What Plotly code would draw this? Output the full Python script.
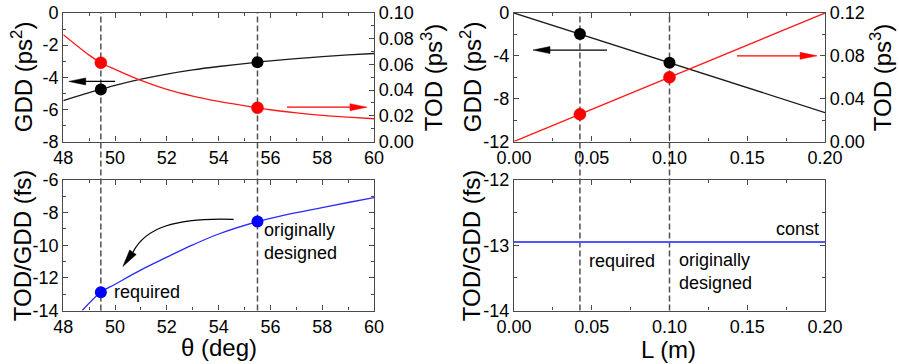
import math
import plotly.graph_objects as go

# ---------------- data ----------------
theta = [48.0, 49.0, 49.45, 50.0, 51.0, 52.0, 53.0, 54.0, 55.5, 56.0, 57.0, 58.0, 59.0, 60.0]
gdd_theta = [-5.45, -4.96, -4.76, -4.51, -4.12, -3.80, -3.54, -3.33, -3.06, -2.98, -2.84, -2.72, -2.61, -2.52]
tod_theta = [0.0831, 0.0672, 0.0613, 0.0561, 0.0475, 0.0405, 0.0353, 0.0312, 0.0262, 0.0247, 0.0223, 0.0203, 0.0189, 0.0177]
theta_ratio = [48.73, 49.45, 50.0, 51.0, 52.0, 53.0, 54.0, 55.5, 56.0, 57.0, 58.0, 59.0, 60.0]
ratio_theta = [-14.0, -12.88, -12.39, -11.51, -10.73, -9.98, -9.31, -8.55, -8.35, -8.0, -7.69, -7.38, -7.08]

theta_pts = [49.45, 55.5]
gdd_theta_pts = [-4.76, -3.06]
tod_theta_pts = [0.0613, 0.0262]
ratio_theta_pts = [-12.88, -8.55]

L = [0.0, 0.2]
gdd_L = [0.0, -9.3]
tod_L = [0.0, 0.12]
ratio_L = [-12.95, -12.95]
L_pts = [0.0424, 0.10]
gdd_L_pts = [-1.97, -4.65]
tod_L_pts = [0.0254, 0.060]

theta_ticks = [48, 50, 52, 54, 56, 58, 60]
theta_ticktext = ["48", "50", "52", "54", "56", "58", "60"]
gdd_theta_ticks = [-8, -6, -4, -2, 0]
gdd_theta_ticktext = ["-8", "-6", "-4", "-2", "0"]
tod_theta_ticks = [0.0, 0.02, 0.04, 0.06, 0.08, 0.10]
tod_theta_ticktext = ["0.00", "0.02", "0.04", "0.06", "0.08", "0.10"]
ratio_theta_ticks = [-14, -12, -10, -8, -6]
ratio_theta_ticktext = ["-14", "-12", "-10", "-8", "-6"]
L_ticks = [0.0, 0.05, 0.10, 0.15, 0.20]
L_ticktext = ["0.00", "0.05", "0.10", "0.15", "0.20"]
gdd_L_ticks = [-12, -8, -4, 0]
gdd_L_ticktext = ["-12", "-8", "-4", "0"]
tod_L_ticks = [0.0, 0.04, 0.08, 0.12]
tod_L_ticktext = ["0.00", "0.04", "0.08", "0.12"]
ratio_L_ticks = [-14, -13, -12]
ratio_L_ticktext = ["-14", "-13", "-12"]

# ---------------- layout geometry ----------------
W, H = 899, 364
LEFT_PX = (63.3, 374.0)
RIGHT_PX = (514.0, 825.0)
TOP_PX = (13.0, 141.5)
BOT_PX = (180.0, 310.5)

R_THETA = [48, 60]
R_GDD_T = [-8, 0]
R_TOD_T = [0, 0.1]
R_RAT_T = [-14, -6]
R_L = [0, 0.2]
R_GDD_L = [-12, 0]
R_TOD_L = [0, 0.12]
R_RAT_L = [-14, -12]


def dom_x(px):
    return [px[0] / W, px[1] / W]


def dom_y(py):
    return [1 - py[1] / H, 1 - py[0] / H]


def d2p(x, y, xr, xpx, yr, ypx):
    px = xpx[0] + (x - xr[0]) / (xr[1] - xr[0]) * (xpx[1] - xpx[0])
    py = ypx[1] - (y - yr[0]) / (yr[1] - yr[0]) * (ypx[1] - ypx[0])
    return px, py


def pp(px, py):
    return px / W, 1 - py / H


FONT = "Arial, Liberation Sans, sans-serif"
FRAME = "#4a4a4a"
BLACK = "#1a1a1a"
RED = "#ff1a1a"
BLUE = "#2a2aff"

fig = go.Figure()

# ---- top-left ----
fig.add_trace(go.Scatter(x=theta, y=gdd_theta, mode="lines", line=dict(color=BLACK, width=1.3, shape="spline"),
                         xaxis="x", yaxis="y", showlegend=False))
fig.add_trace(go.Scatter(x=theta, y=tod_theta, mode="lines", line=dict(color=RED, width=1.3, shape="spline"),
                         xaxis="x", yaxis="y2", showlegend=False))
fig.add_trace(go.Scatter(x=theta_pts, y=gdd_theta_pts, mode="markers", marker=dict(color="black", size=12),
                         xaxis="x", yaxis="y", showlegend=False))
fig.add_trace(go.Scatter(x=theta_pts, y=tod_theta_pts, mode="markers",
                         marker=dict(color="#ff0000", size=12, line=dict(color="#e00000", width=0.5)),
                         xaxis="x", yaxis="y2", showlegend=False))
# ---- bottom-left ----
fig.add_trace(go.Scatter(x=theta_ratio, y=ratio_theta, mode="lines", line=dict(color=BLUE, width=1.3, shape="spline"),
                         xaxis="x2", yaxis="y3", showlegend=False))
fig.add_trace(go.Scatter(x=theta_pts, y=ratio_theta_pts, mode="markers", marker=dict(color="#0000ff", size=12),
                         xaxis="x2", yaxis="y3", showlegend=False))
# ---- top-right ----
fig.add_trace(go.Scatter(x=L, y=gdd_L, mode="lines", line=dict(color=BLACK, width=1.3),
                         xaxis="x3", yaxis="y4", showlegend=False))
fig.add_trace(go.Scatter(x=L, y=tod_L, mode="lines", line=dict(color=RED, width=1.3),
                         xaxis="x3", yaxis="y5", showlegend=False))
fig.add_trace(go.Scatter(x=L_pts, y=gdd_L_pts, mode="markers", marker=dict(color="black", size=12),
                         xaxis="x3", yaxis="y4", showlegend=False))
fig.add_trace(go.Scatter(x=L_pts, y=tod_L_pts, mode="markers",
                         marker=dict(color="#ff0000", size=12, line=dict(color="#e00000", width=0.5)),
                         xaxis="x3", yaxis="y5", showlegend=False))
# ---- bottom-right ----
fig.add_trace(go.Scatter(x=L, y=ratio_L, mode="lines", line=dict(color="#5555ff", width=2.2),
                         xaxis="x4", yaxis="y6", showlegend=False))

tickfont = dict(family=FONT, size=18, color="black")


def axis(rng, domain, ticks, ticktext, minor_dtick, anchor, side=None, mirror="ticks", overlaying=None, tick0=None):
    d = dict(range=rng, domain=domain, tickmode="array", tickvals=ticks, ticktext=ticktext,
             ticks="inside", ticklen=5, tickwidth=1.1, tickcolor=FRAME, automargin=False,
             showline=True, linecolor=FRAME, linewidth=1.3, mirror=mirror,
             showgrid=False, zeroline=False, tickfont=tickfont, anchor=anchor, fixedrange=True,
             minor=dict(tickmode="linear", tick0=rng[0] if tick0 is None else tick0, dtick=minor_dtick,
                        ticks="inside", ticklen=3, tickcolor=FRAME, showgrid=False))
    if side:
        d["side"] = side
    if overlaying:
        d["overlaying"] = overlaying
        d.pop("domain")
    return d


fig.update_layout(
    template="none",
    width=W, height=H, autosize=False, margin=dict(l=0, r=0, t=0, b=0, pad=0, autoexpand=False),
    paper_bgcolor="white", plot_bgcolor="white", showlegend=False,
    font=dict(family=FONT, size=18, color="black"),
    xaxis=axis(R_THETA, dom_x(LEFT_PX), theta_ticks, theta_ticktext, 1, "y"),
    yaxis=axis(R_GDD_T, dom_y(TOP_PX), gdd_theta_ticks, gdd_theta_ticktext, 1, "x", mirror=False),
    yaxis2=axis(R_TOD_T, None, tod_theta_ticks, tod_theta_ticktext, 0.01, "x", side="right", mirror=False,
                overlaying="y"),
    xaxis2=axis(R_THETA, dom_x(LEFT_PX), theta_ticks, theta_ticktext, 1, "y3"),
    yaxis3=axis(R_RAT_T, dom_y(BOT_PX), ratio_theta_ticks, ratio_theta_ticktext, 1, "x2"),
    xaxis3=axis(R_L, dom_x(RIGHT_PX), L_ticks, L_ticktext, 0.025, "y4"),
    yaxis4=axis(R_GDD_L, dom_y(TOP_PX), gdd_L_ticks, gdd_L_ticktext, 2, "x3", mirror=False),
    yaxis5=axis(R_TOD_L, None, tod_L_ticks, tod_L_ticktext, 0.02, "x3", side="right", mirror=False,
                overlaying="y4"),
    xaxis4=axis(R_L, dom_x(RIGHT_PX), L_ticks, L_ticktext, 0.025, "y6"),
    yaxis6=axis(R_RAT_L, dom_y(BOT_PX), ratio_L_ticks, ratio_L_ticktext, 0.5, "x4"),
)

shapes = []
y_lo = 1 - BOT_PX[1] / H
y_hi = 1 - TOP_PX[0] / H
for xv in theta_pts:
    shapes.append(dict(type="line", xref="x", yref="paper", x0=xv, x1=xv, y0=y_lo, y1=y_hi,
                       line=dict(color="#505050", width=1.5, dash="6px,3px"), layer="below"))
for xv in L_pts:
    shapes.append(dict(type="line", xref="x3", yref="paper", x0=xv, x1=xv, y0=y_lo, y1=y_hi,
                       line=dict(color="#505050", width=1.5, dash="6px,3px"), layer="below"))


def head(base, tip, color, half_w=3.5):
    dx, dy = tip[0] - base[0], tip[1] - base[1]
    n = math.hypot(dx, dy)
    nx, ny = -dy / n, dx / n
    a = pp(base[0] + nx * half_w, base[1] + ny * half_w)
    b = pp(base[0] - nx * half_w, base[1] - ny * half_w)
    t = pp(*tip)
    path = f"M {t[0]:.5f},{t[1]:.5f} L {a[0]:.5f},{a[1]:.5f} L {b[0]:.5f},{b[1]:.5f} Z"
    return dict(type="path", xref="paper", yref="paper", path=path, fillcolor=color,
                line=dict(color=color, width=0.5), layer="above")


def straight_arrow(start, tip, color, head_len=17, width=1.3):
    dx, dy = tip[0] - start[0], tip[1] - start[1]
    n = math.hypot(dx, dy)
    base = (tip[0] - dx / n * head_len, tip[1] - dy / n * head_len)
    s = pp(*start)
    e = pp(base[0] + dx / n * 2, base[1] + dy / n * 2)
    return [dict(type="line", xref="paper", yref="paper", x0=s[0], y0=s[1], x1=e[0], y1=e[1],
                 line=dict(color=color, width=width), layer="above"),
            head(base, tip, color)]


tl = lambda x, y: d2p(x, y, R_THETA, LEFT_PX, R_GDD_T, TOP_PX)
tl2 = lambda x, y: d2p(x, y, R_THETA, LEFT_PX, R_TOD_T, TOP_PX)
tr = lambda x, y: d2p(x, y, R_L, RIGHT_PX, R_GDD_L, TOP_PX)
tr2 = lambda x, y: d2p(x, y, R_L, RIGHT_PX, R_TOD_L, TOP_PX)
bl = lambda x, y: d2p(x, y, R_THETA, LEFT_PX, R_RAT_T, BOT_PX)

shapes += straight_arrow(tl(50.0, -4.26), tl(48.21, -4.26), "black")
shapes += straight_arrow(tl2(56.64, 0.0267), tl2(59.73, 0.0267), "#ff0000")
shapes += straight_arrow(tr(0.0598, -3.46), tr(0.0122, -3.46), "black")
shapes += straight_arrow(tr2(0.1434, 0.080), tr2(0.1949, 0.080), "#ff0000")

# curved arrow (bottom-left)
P0 = bl(54.58, -8.41)
C1 = bl(52.31, -8.28)
C2 = bl(51.15, -8.96)
P2 = bl(50.69, -10.43)
TIP = bl(50.30, -11.30)
p0, c1, c2, p2 = pp(*P0), pp(*C1), pp(*C2), pp(*P2)
shapes.append(dict(type="path", xref="paper", yref="paper",
                   path=f"M {p0[0]:.5f},{p0[1]:.5f} C {c1[0]:.5f},{c1[1]:.5f} {c2[0]:.5f},{c2[1]:.5f} {p2[0]:.5f},{p2[1]:.5f}",
                   line=dict(color="black", width=1.3), layer="above"))
shapes.append(head(P2, TIP, "black", half_w=4))

fig.update_layout(shapes=shapes)

ann_font = dict(family=FONT, size=18, color="black")
title_font = dict(family=FONT, size=24, color="black")
annotations = [
    dict(x=49.88, y=-12.87, xref="x2", yref="y3", text="required", xanchor="left", yanchor="middle"),
    dict(x=55.67, y=-9.80, xref="x2", yref="y3", text="originally<br>designed", xanchor="left", yanchor="middle",
         align="left"),
    dict(x=0.1974, y=-12.75, xref="x4", yref="y6", text="const", xanchor="right", yanchor="middle"),
    dict(x=0.0469, y=-13.24, xref="x4", yref="y6", text="required", xanchor="left", yanchor="middle"),
    dict(x=0.1048, y=-13.40, xref="x4", yref="y6", text="originally<br>designed", xanchor="left",
         yanchor="middle", align="left"),
]
for a in annotations:
    a.update(showarrow=False, font=ann_font)

top_mid = 1 - (TOP_PX[0] + TOP_PX[1]) / 2 / H
bot_mid = 1 - (BOT_PX[0] + BOT_PX[1]) / 2 / H
titles = [
    (22 / W, top_mid, "GDD (ps<sup>2</sup>)", -90),
    (432 / W, top_mid, "TOD (ps<sup>3</sup>)", -90),
    (22 / W, bot_mid, "TOD/GDD (fs)", -90),
    (471 / W, top_mid, "GDD (ps<sup>2</sup>)", -90),
    (881 / W, top_mid, "TOD (ps<sup>3</sup>)", -90),
    (471 / W, bot_mid, "TOD/GDD (fs)", -90),
    (219 / W, 1 - 347 / H, "θ (deg)", 0),
    (668 / W, 1 - 349 / H, "L (m)", 0),
]
for x, y, t, ang in titles:
    annotations.append(dict(x=x, y=y, xref="paper", yref="paper", text=t, textangle=ang, showarrow=False,
                            xanchor="center", yanchor="middle", font=title_font))

fig.update_layout(annotations=annotations)

fig.write_html("out.html")
